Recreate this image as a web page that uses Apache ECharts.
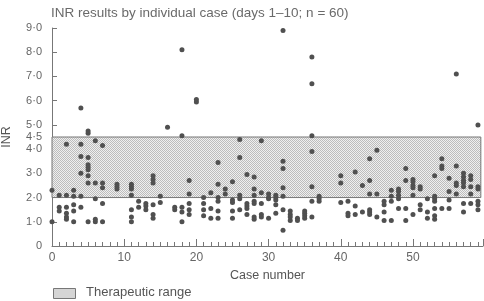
<!DOCTYPE html>
<html>
<head>
<meta charset="utf-8">
<script src="https://cdn.jsdelivr.net/npm/echarts@6/dist/echarts.min.js"></script>
<style>
  html, body { margin: 0; padding: 0; background: #fff; }
  #chart { width: 484px; height: 301px; }
</style>
</head>
<body>
<div id="chart"></div>
<script>
// INR readings per case (index = case number)
const inrByCase = [
  [2.3, 1.0],
  [2.1, 1.6, 1.45],
  [4.2, 2.1, 1.6, 1.35, 1.2, 1.1],
  [2.3, 2.05, 1.7, 1.45, 1.0],
  [5.7, 4.2, 3.7, 3.0, 2.05, 1.6],
  [4.75, 4.65, 3.65, 3.35, 3.25, 3.15, 2.9, 2.6, 1.0],
  [4.35, 2.6, 1.95, 1.1, 1.0],
  [4.15, 2.6, 2.4, 1.75, 1.0],
  [],
  [2.55, 2.45, 2.35],
  [],
  [2.55, 2.45, 2.35, 2.1, 1.5, 1.2, 1.0],
  [1.85, 1.6],
  [1.75, 1.65, 1.5],
  [2.9, 2.75, 2.6, 1.7, 1.3, 1.15],
  [2.05, 1.8],
  [4.9],
  [1.6, 1.5],
  [8.1, 4.55, 1.6, 1.4, 1.0],
  [2.7, 2.15, 1.75, 1.5, 1.3],
  [6.05, 5.95],
  [2.0, 1.75, 1.5, 1.25],
  [2.2, 1.55, 1.15],
  [3.45, 2.55, 2.0, 1.85, 1.45, 1.15],
  [2.35, 2.15],
  [2.65, 1.9, 1.8, 1.45, 1.15],
  [4.4, 3.65, 2.1, 1.95, 1.5],
  [2.95, 1.75, 1.65, 1.55, 1.3],
  [2.85, 2.35, 2.1, 1.85, 1.75, 1.2, 1.1],
  [4.35, 2.2, 1.75, 1.3, 1.2],
  [2.15, 2.0, 1.95, 1.15],
  [2.1, 2.0, 1.9, 1.7, 1.35],
  [8.9, 3.5, 3.2, 2.4, 2.05, 1.5, 0.65],
  [1.45, 1.3, 1.2, 1.05],
  [1.15, 1.05],
  [1.45, 1.35, 1.25, 1.15],
  [7.8, 6.7, 4.55, 3.9, 2.45, 1.85, 1.2],
  [2.05, 1.95, 1.85],
  [],
  [],
  [2.9, 2.6, 1.8],
  [1.85, 1.35, 1.25],
  [3.05, 1.65, 1.3],
  [2.5, 1.4],
  [3.6, 2.7, 2.15, 1.5, 1.4, 1.3],
  [3.95, 2.15, 1.2],
  [1.85, 1.7, 1.4, 1.05],
  [2.3, 2.05, 1.85, 1.05],
  [2.35, 2.25, 2.1, 1.95, 1.55],
  [3.2, 2.7, 1.55, 1.05],
  [2.75, 2.65, 2.5, 2.4, 2.1, 1.3],
  [2.45, 2.35, 1.7, 1.5],
  [1.95, 1.4, 1.15],
  [2.9, 2.05, 1.95, 1.85, 1.55, 1.25, 1.1],
  [3.6, 3.3, 3.2, 1.55],
  [2.8, 2.25, 1.9, 1.55],
  [7.1, 3.3, 2.6, 2.5, 2.15],
  [3.0, 2.85, 2.7, 2.6, 2.45, 1.75, 1.4],
  [2.9, 2.75, 2.45, 2.15, 1.75],
  [5.0, 2.45, 2.35, 1.85, 1.7, 1.5]
];
const therapeuticRange = [2.0, 4.5];
const yTicks = [0, 1, 2, 3, 4, 4.5, 5, 6, 7, 8, 9];
const xTicks = [0, 10, 20, 30, 40, 50];

const points = [];
inrByCase.forEach((vals, c) => vals.forEach(v => points.push([c, v])));

// fine dotted fill for the therapeutic band
function dotPattern() {
  const cv = document.createElement('canvas');
  cv.width = 2; cv.height = 2;
  const ctx = cv.getContext('2d');
  ctx.fillStyle = '#efefef';
  ctx.fillRect(0, 0, 2, 2);
  ctx.fillStyle = '#bcbcbc';
  ctx.fillRect(0, 0, 1, 1);
  ctx.fillRect(1, 1, 1, 1);
  return { image: cv, repeat: 'repeat' };
}
const bandFill = dotPattern();

const fmt = v => (v === 0 ? '0' : v.toFixed(1).replace('.', '·'));
const gray = '#666';

const chart = echarts.init(document.getElementById('chart'));
chart.setOption({
  animation: false,
  title: {
    text: 'INR results by individual case (days 1–10; n = 60)',
    left: 46, top: 1,
    textStyle: { fontFamily: 'Liberation Sans', fontSize: 13.5, fontWeight: 'normal', color: '#6a6a6a' }
  },
  grid: { left: 52, right: 1, top: 28, bottom: 55, outerBoundsMode: 'none' },
  xAxis: {
    type: 'value', min: 0, max: 59.7, interval: 10,
    name: 'Case number', nameLocation: 'middle', nameGap: 19,
    nameTextStyle: { fontFamily: 'Liberation Sans', fontSize: 12.5, color: '#555' },
    axisLine: { lineStyle: { color: '#777', width: 1 } },
    axisTick: { inside: true, length: 7, lineStyle: { color: '#777' } },
    minorTick: { show: true, splitNumber: 10, length: 4, lineStyle: { color: '#777' } },
    axisLabel: {
      fontFamily: 'Liberation Sans', fontSize: 12, color: gray, margin: 6,
      formatter: v => (xTicks.indexOf(v) >= 0 ? String(v) : '')
    },
    splitLine: { show: false }
  },
  yAxis: {
    type: 'value', min: 0, max: 9,
    name: 'INR', nameLocation: 'middle', nameGap: 39, nameRotate: 90,
    nameTextStyle: { fontFamily: 'Liberation Sans', fontSize: 12.5, color: '#555' },
    axisLine: { show: true, lineStyle: { color: '#777', width: 1 } },
    axisTick: { inside: true, length: 5, customValues: yTicks, lineStyle: { color: '#777' } },
    axisLabel: {
      fontFamily: 'Liberation Sans', fontSize: 11, color: gray, margin: 10,
      customValues: yTicks, formatter: fmt
    },
    splitLine: { show: false }
  },
  series: [
    {
      type: 'scatter', data: [], z: 1, silent: true,
      markArea: {
        silent: true,
        itemStyle: { color: bandFill, borderColor: '#777', borderWidth: 1 },
        data: [[{ xAxis: 0, yAxis: therapeuticRange[0] }, { xAxis: 59.4, yAxis: therapeuticRange[1] }]]
      }
    },
    {
      type: 'scatter', data: points, z: 3,
      symbol: 'circle', symbolSize: 5,
      itemStyle: { color: '#505050', opacity: 1 }
    }
  ],
  graphic: [
    {
      type: 'rect', left: 53, top: 288,
      shape: { width: 22, height: 10 },
      style: { fill: bandFill, stroke: '#777', lineWidth: 1 }
    },
    {
      type: 'text', left: 86, top: 286,
      style: { text: 'Therapeutic range', font: '13px "Liberation Sans"', fill: '#555' }
    }
  ]
});
</script>
</body>
</html>
